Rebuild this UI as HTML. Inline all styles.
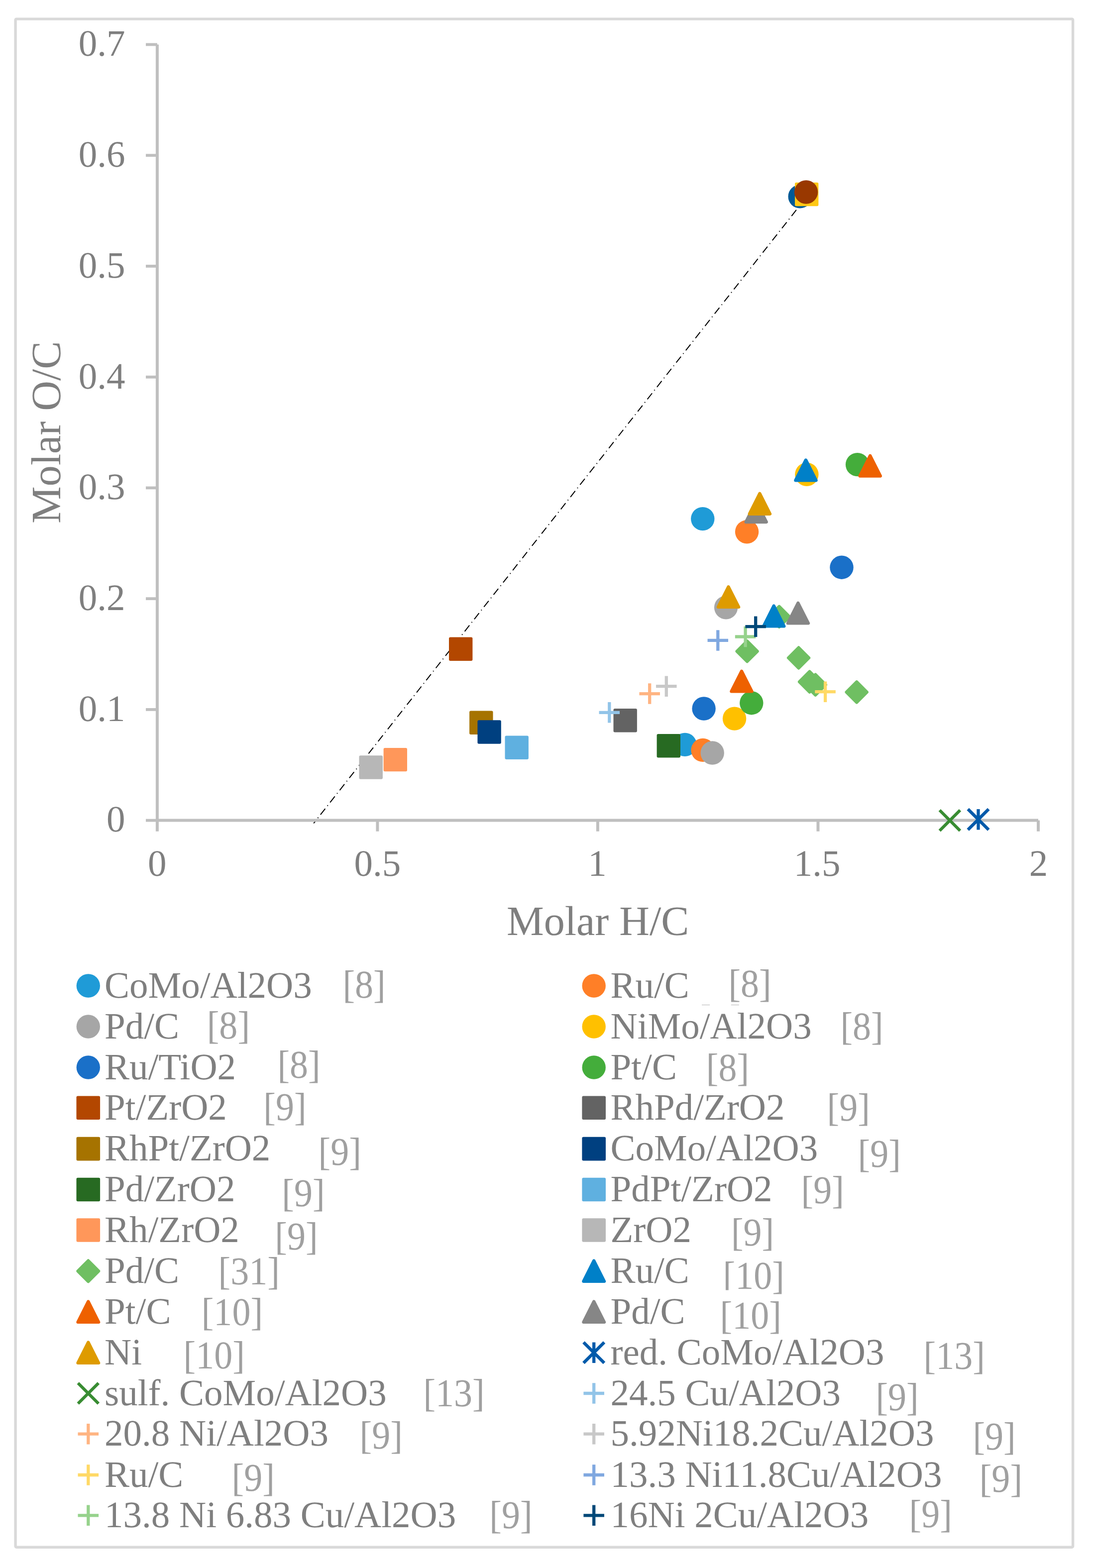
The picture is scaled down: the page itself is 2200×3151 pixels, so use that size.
<!DOCTYPE html>
<html><head><meta charset="utf-8"><title>Molar O/C vs H/C</title>
<style>html,body{margin:0;padding:0;background:#fff;}svg{display:block;}text{font-family:"Liberation Serif","Times New Roman",serif;text-rendering:geometricPrecision;}</style>
</head><body>
<svg width="2200" height="3151" viewBox="0 0 2200 3151">
<rect width="2200" height="3151" fill="#fff"/>
<rect x="31.1" y="38.1" width="2124.5" height="3071.1" rx="2" fill="none" stroke="#d9d9d9" stroke-width="5.4"/>
<line x1="630.2" y1="1654.5" x2="1620.7" y2="395.5" stroke="#000" stroke-width="2.0" stroke-dasharray="15.4 7.0 1.7 7.14" stroke-dashoffset="9.14"/>
<line x1="315.9" y1="89.5" x2="315.9" y2="1648.6" stroke="#bfbfbf" stroke-width="6"/>
<line x1="315.9" y1="1648.6" x2="2086" y2="1648.6" stroke="#bfbfbf" stroke-width="6"/>
<line x1="293" y1="1648.6" x2="315.9" y2="1648.6" stroke="#bfbfbf" stroke-width="5.8"/>
<line x1="293" y1="1425.9" x2="315.9" y2="1425.9" stroke="#bfbfbf" stroke-width="5.8"/>
<line x1="293" y1="1203.1" x2="315.9" y2="1203.1" stroke="#bfbfbf" stroke-width="5.8"/>
<line x1="293" y1="980.4" x2="315.9" y2="980.4" stroke="#bfbfbf" stroke-width="5.8"/>
<line x1="293" y1="757.7" x2="315.9" y2="757.7" stroke="#bfbfbf" stroke-width="5.8"/>
<line x1="293" y1="534.9" x2="315.9" y2="534.9" stroke="#bfbfbf" stroke-width="5.8"/>
<line x1="293" y1="312.2" x2="315.9" y2="312.2" stroke="#bfbfbf" stroke-width="5.8"/>
<line x1="293" y1="89.5" x2="315.9" y2="89.5" stroke="#bfbfbf" stroke-width="5.8"/>
<line x1="315.9" y1="1648.6" x2="315.9" y2="1670.7" stroke="#bfbfbf" stroke-width="6"/>
<line x1="758.4" y1="1648.6" x2="758.4" y2="1670.7" stroke="#bfbfbf" stroke-width="6"/>
<line x1="1200.9" y1="1648.6" x2="1200.9" y2="1670.7" stroke="#bfbfbf" stroke-width="6"/>
<line x1="1643.5" y1="1648.6" x2="1643.5" y2="1670.7" stroke="#bfbfbf" stroke-width="6"/>
<line x1="2086.0" y1="1648.6" x2="2086.0" y2="1670.7" stroke="#bfbfbf" stroke-width="6"/>
<circle cx="1607.2" cy="394.9" r="23.70" fill="#005a96"/>
<rect x="1599.75" y="369.55" width="41.90" height="41.90" fill="#ffc814" stroke="#ffc814" stroke-width="5.5" stroke-linejoin="round"/>
<circle cx="1619.6" cy="386.0" r="23.70" fill="#993800"/>
<circle cx="1411.8" cy="1042.6" r="23.70" fill="#1f9bd7"/>
<circle cx="1376.1" cy="1496.4" r="23.70" fill="#1f9bd7"/>
<circle cx="1500.6" cy="1068.8" r="23.70" fill="#ff7f27"/>
<circle cx="1412.1" cy="1507.4" r="23.70" fill="#ff7f27"/>
<circle cx="1458.6" cy="1220.8" r="23.70" fill="#a6a6a6"/>
<circle cx="1431.2" cy="1513.0" r="23.70" fill="#a6a6a6"/>
<circle cx="1620.9" cy="953.3" r="23.70" fill="#ffc000"/>
<circle cx="1475.6" cy="1444.1" r="23.70" fill="#ffc000"/>
<circle cx="1691.0" cy="1140.2" r="23.70" fill="#1a70c8"/>
<circle cx="1414.1" cy="1424.0" r="23.70" fill="#1a70c8"/>
<circle cx="1722.6" cy="933.6" r="23.70" fill="#44ad3b"/>
<circle cx="1509.8" cy="1412.7" r="23.70" fill="#44ad3b"/>
<rect x="904.75" y="1283.25" width="41.90" height="41.90" fill="#b34700" stroke="#b34700" stroke-width="5.5" stroke-linejoin="round"/>
<rect x="1235.25" y="1426.75" width="41.90" height="41.90" fill="#636363" stroke="#636363" stroke-width="5.5" stroke-linejoin="round"/>
<rect x="945.85" y="1431.25" width="41.90" height="41.90" fill="#a67300" stroke="#a67300" stroke-width="5.5" stroke-linejoin="round"/>
<rect x="962.15" y="1450.05" width="41.90" height="41.90" fill="#004080" stroke="#004080" stroke-width="5.5" stroke-linejoin="round"/>
<rect x="1322.35" y="1477.75" width="41.90" height="41.90" fill="#276a22" stroke="#276a22" stroke-width="5.5" stroke-linejoin="round"/>
<rect x="1017.25" y="1481.25" width="41.90" height="41.90" fill="#5fb0e0" stroke="#5fb0e0" stroke-width="5.5" stroke-linejoin="round"/>
<rect x="773.35" y="1505.65" width="41.90" height="41.90" fill="#ff975a" stroke="#ff975a" stroke-width="5.5" stroke-linejoin="round"/>
<rect x="724.25" y="1521.05" width="41.90" height="41.90" fill="#b7b7b7" stroke="#b7b7b7" stroke-width="5.5" stroke-linejoin="round"/>
<polygon points="1501.1,1288.10 1521.80,1308.8 1501.1,1329.50 1480.40,1308.8" fill="#6fbf62" stroke="#6fbf62" stroke-width="6.0" stroke-linejoin="round"/>
<polygon points="1604.6,1301.30 1625.30,1322.0 1604.6,1342.70 1583.90,1322.0" fill="#6fbf62" stroke="#6fbf62" stroke-width="6.0" stroke-linejoin="round"/>
<polygon points="1626.6,1349.40 1647.30,1370.1 1626.6,1390.80 1605.90,1370.1" fill="#6fbf62" stroke="#6fbf62" stroke-width="6.0" stroke-linejoin="round"/>
<polygon points="1638.3,1355.40 1659.00,1376.1 1638.3,1396.80 1617.60,1376.1" fill="#6fbf62" stroke="#6fbf62" stroke-width="6.0" stroke-linejoin="round"/>
<polygon points="1721.2,1370.20 1741.90,1390.9 1721.2,1411.60 1700.50,1390.9" fill="#6fbf62" stroke="#6fbf62" stroke-width="6.0" stroke-linejoin="round"/>
<polygon points="1565.5,1218.60 1586.20,1239.3 1565.5,1260.00 1544.80,1239.3" fill="#6fbf62" stroke="#6fbf62" stroke-width="6.0" stroke-linejoin="round"/>
<polygon points="1554.7,1217.65 1575.20,1258.35 1534.20,1258.35" fill="#0080c8" stroke="#0080c8" stroke-width="6.5" stroke-linejoin="round"/>
<polygon points="1619.0,924.55 1639.50,965.25 1598.50,965.25" fill="#0080c8" stroke="#0080c8" stroke-width="6.5" stroke-linejoin="round"/>
<polygon points="1490.0,1348.95 1510.50,1389.35 1469.50,1389.35" fill="#ee6100" stroke="#ee6100" stroke-width="6.5" stroke-linejoin="round"/>
<polygon points="1748.2,915.85 1768.70,956.55 1727.70,956.55" fill="#ee6100" stroke="#ee6100" stroke-width="6.5" stroke-linejoin="round"/>
<polygon points="1603.4,1211.95 1623.90,1252.35 1582.90,1252.35" fill="#868686" stroke="#868686" stroke-width="6.5" stroke-linejoin="round"/>
<polygon points="1519.2,1008.45 1539.70,1048.95 1498.70,1048.95" fill="#868686" stroke="#868686" stroke-width="6.5" stroke-linejoin="round"/>
<polygon points="1526.4,991.95 1546.90,1032.65 1505.90,1032.65" fill="#de9b00" stroke="#de9b00" stroke-width="6.5" stroke-linejoin="round"/>
<polygon points="1463.5,1179.45 1484.00,1219.85 1443.00,1219.85" fill="#de9b00" stroke="#de9b00" stroke-width="6.5" stroke-linejoin="round"/>
<path d="M1944.70 1626.00L1986.30 1667.60M1944.70 1667.60L1986.30 1626.00M1965.5 1626.00V1667.60" stroke="#005aaa" stroke-width="6.3" fill="none"/>
<path d="M1887.80 1628.10L1929.00 1669.30M1887.80 1669.30L1929.00 1628.10" stroke="#388c32" stroke-width="6.1" fill="none"/>
<path d="M1203.55 1431.8H1245.05M1224.3 1411.05V1452.55" stroke="#92c4e8" stroke-width="6.3" fill="none"/>
<path d="M1284.45 1394.1H1325.95M1305.2 1373.35V1414.85" stroke="#ffb482" stroke-width="6.3" fill="none"/>
<path d="M1318.05 1379.2H1359.55M1338.8 1358.45V1399.95" stroke="#c8c8c8" stroke-width="6.3" fill="none"/>
<path d="M1637.35 1390.2H1678.85M1658.1 1369.45V1410.95" stroke="#ffd966" stroke-width="6.3" fill="none"/>
<path d="M1421.55 1286.9H1463.05M1442.3 1266.15V1307.65" stroke="#80a8e0" stroke-width="6.3" fill="none"/>
<path d="M1476.85 1279.5H1518.35M1497.6 1258.75V1300.25" stroke="#96d28c" stroke-width="6.3" fill="none"/>
<path d="M1497.45 1259.2H1538.95M1518.2 1238.45V1279.95" stroke="#004878" stroke-width="6.3" fill="none"/>
<circle cx="177.3" cy="1981.0" r="23.70" fill="#1f9bd7"/>
<circle cx="177.3" cy="2063.0" r="23.70" fill="#a6a6a6"/>
<circle cx="177.3" cy="2145.0" r="23.70" fill="#1a70c8"/>
<rect x="156.25" y="2205.15" width="42.10" height="42.10" fill="#b34700" stroke="#b34700" stroke-width="5.5" stroke-linejoin="round"/>
<rect x="156.25" y="2287.55" width="42.10" height="42.10" fill="#a67300" stroke="#a67300" stroke-width="5.5" stroke-linejoin="round"/>
<rect x="156.25" y="2369.45" width="42.10" height="42.10" fill="#276a22" stroke="#276a22" stroke-width="5.5" stroke-linejoin="round"/>
<rect x="156.25" y="2450.95" width="42.10" height="42.10" fill="#ff975a" stroke="#ff975a" stroke-width="5.5" stroke-linejoin="round"/>
<polygon points="177.3,2533.30 198.30,2554.3 177.3,2575.30 156.30,2554.3" fill="#6fbf62" stroke="#6fbf62" stroke-width="6.0" stroke-linejoin="round"/>
<polygon points="177.3,2615.75 198.05,2656.85 156.55,2656.85" fill="#ee6100" stroke="#ee6100" stroke-width="6.5" stroke-linejoin="round"/>
<polygon points="177.3,2697.75 198.05,2738.85 156.55,2738.85" fill="#de9b00" stroke="#de9b00" stroke-width="6.5" stroke-linejoin="round"/>
<path d="M156.70 2779.40L197.90 2820.60M156.70 2820.60L197.90 2779.40" stroke="#388c32" stroke-width="6.1" fill="none"/>
<path d="M156.50 2881.7H198.10M177.3 2860.90V2902.50" stroke="#ffb482" stroke-width="6.3" fill="none"/>
<path d="M156.50 2964.0H198.10M177.3 2943.20V2984.80" stroke="#ffd966" stroke-width="6.3" fill="none"/>
<path d="M156.50 3045.3H198.10M177.3 3024.50V3066.10" stroke="#96d28c" stroke-width="6.3" fill="none"/>
<circle cx="1193.2" cy="1981.0" r="23.70" fill="#ff7f27"/>
<circle cx="1193.2" cy="2063.0" r="23.70" fill="#ffc000"/>
<circle cx="1193.2" cy="2145.0" r="23.70" fill="#44ad3b"/>
<rect x="1172.15" y="2205.15" width="42.10" height="42.10" fill="#636363" stroke="#636363" stroke-width="5.5" stroke-linejoin="round"/>
<rect x="1172.15" y="2287.55" width="42.10" height="42.10" fill="#004080" stroke="#004080" stroke-width="5.5" stroke-linejoin="round"/>
<rect x="1172.15" y="2369.45" width="42.10" height="42.10" fill="#5fb0e0" stroke="#5fb0e0" stroke-width="5.5" stroke-linejoin="round"/>
<rect x="1172.15" y="2450.95" width="42.10" height="42.10" fill="#b7b7b7" stroke="#b7b7b7" stroke-width="5.5" stroke-linejoin="round"/>
<polygon points="1193.2,2533.75 1213.95,2574.85 1172.45,2574.85" fill="#0080c8" stroke="#0080c8" stroke-width="6.5" stroke-linejoin="round"/>
<polygon points="1193.2,2615.75 1213.95,2656.85 1172.45,2656.85" fill="#868686" stroke="#868686" stroke-width="6.5" stroke-linejoin="round"/>
<path d="M1172.40 2697.50L1214.00 2739.10M1172.40 2739.10L1214.00 2697.50M1193.2 2697.50V2739.10" stroke="#005aaa" stroke-width="6.3" fill="none"/>
<path d="M1172.40 2800.0H1214.00M1193.2 2779.20V2820.80" stroke="#92c4e8" stroke-width="6.3" fill="none"/>
<path d="M1172.40 2881.7H1214.00M1193.2 2860.90V2902.50" stroke="#c8c8c8" stroke-width="6.3" fill="none"/>
<path d="M1172.40 2964.0H1214.00M1193.2 2943.20V2984.80" stroke="#80a8e0" stroke-width="6.3" fill="none"/>
<path d="M1172.40 3045.3H1214.00M1193.2 3024.50V3066.10" stroke="#004878" stroke-width="6.3" fill="none"/>
<path d="M1410 2019.5H1426.2M1468.8 2019.5H1484.8" stroke="#b4b4b4" stroke-width="1.2"/>
<text x="251.5" y="1671.4" font-size="75.0" fill="#7f7f7f" text-anchor="end">0</text>
<text x="251.5" y="1448.7" font-size="75.0" fill="#7f7f7f" text-anchor="end">0.1</text>
<text x="251.5" y="1225.9" font-size="75.0" fill="#7f7f7f" text-anchor="end">0.2</text>
<text x="251.5" y="1003.2" font-size="75.0" fill="#7f7f7f" text-anchor="end">0.3</text>
<text x="251.5" y="780.5" font-size="75.0" fill="#7f7f7f" text-anchor="end">0.4</text>
<text x="251.5" y="557.7" font-size="75.0" fill="#7f7f7f" text-anchor="end">0.5</text>
<text x="251.5" y="335.0" font-size="75.0" fill="#7f7f7f" text-anchor="end">0.6</text>
<text x="251.5" y="112.3" font-size="75.0" fill="#7f7f7f" text-anchor="end">0.7</text>
<text x="297.1" y="1759.6" font-size="75.0" fill="#7f7f7f">0</text>
<text x="711.6" y="1759.6" font-size="75.0" fill="#7f7f7f">0.5</text>
<text x="1181.2" y="1759.6" font-size="75.0" fill="#7f7f7f">1</text>
<text x="1594.8" y="1759.6" font-size="75.0" fill="#7f7f7f">1.5</text>
<text x="2067.7" y="1759.6" font-size="75.0" fill="#7f7f7f">2</text>
<text x="1018.0" y="1879.0" font-size="84.0" fill="#7f7f7f">Molar H/C</text>
<text transform="translate(120.5,1052.0) rotate(-90)" x="0" y="0" font-size="84.0" fill="#7f7f7f">Molar O/C</text>
<text x="210.0" y="2004.5" font-size="75.0" fill="#7f7f7f">CoMo/Al2O3</text>
<text transform="translate(688.4,2004.9) scale(0.935,1)" font-size="79.2" fill="#a0a0a0">[8]</text>
<text x="210.0" y="2086.5" font-size="75.0" fill="#7f7f7f">Pd/C</text>
<text transform="translate(415.7,2087.2) scale(0.935,1)" font-size="79.2" fill="#a0a0a0">[8]</text>
<text x="210.0" y="2168.5" font-size="75.0" fill="#7f7f7f">Ru/TiO2</text>
<text transform="translate(557.4,2165.8) scale(0.935,1)" font-size="79.2" fill="#a0a0a0">[8]</text>
<text x="210.0" y="2249.7" font-size="75.0" fill="#7f7f7f">Pt/ZrO2</text>
<text transform="translate(529.3,2251.1) scale(0.935,1)" font-size="79.2" fill="#a0a0a0">[9]</text>
<text x="210.0" y="2332.1" font-size="75.0" fill="#7f7f7f">RhPt/ZrO2</text>
<text transform="translate(639.5,2341.1) scale(0.935,1)" font-size="79.2" fill="#a0a0a0">[9]</text>
<text x="210.0" y="2414.0" font-size="75.0" fill="#7f7f7f">Pd/ZrO2</text>
<text transform="translate(566.3,2424.0) scale(0.935,1)" font-size="79.2" fill="#a0a0a0">[9]</text>
<text x="210.0" y="2495.5" font-size="75.0" fill="#7f7f7f">Rh/ZrO2</text>
<text transform="translate(552.3,2511.1) scale(0.935,1)" font-size="79.2" fill="#a0a0a0">[9]</text>
<text x="210.0" y="2577.8" font-size="75.0" fill="#7f7f7f">Pd/C</text>
<text transform="translate(438.6,2581.0) scale(0.935,1)" font-size="79.2" fill="#a0a0a0">[31]</text>
<text x="210.0" y="2659.8" font-size="75.0" fill="#7f7f7f">Pt/C</text>
<text transform="translate(404.7,2662.9) scale(0.935,1)" font-size="79.2" fill="#a0a0a0">[10]</text>
<text x="210.0" y="2741.8" font-size="75.0" fill="#7f7f7f">Ni</text>
<text transform="translate(368.6,2750.0) scale(0.935,1)" font-size="79.2" fill="#a0a0a0">[10]</text>
<text x="210.0" y="2823.5" font-size="75.0" fill="#7f7f7f">sulf. CoMo/Al2O3</text>
<text transform="translate(850.4,2826.0) scale(0.935,1)" font-size="79.2" fill="#a0a0a0">[13]</text>
<text x="210.0" y="2905.2" font-size="75.0" fill="#7f7f7f">20.8 Ni/Al2O3</text>
<text transform="translate(722.5,2911.2) scale(0.935,1)" font-size="79.2" fill="#a0a0a0">[9]</text>
<text x="210.0" y="2987.5" font-size="75.0" fill="#7f7f7f">Ru/C</text>
<text transform="translate(465.6,2996.0) scale(0.935,1)" font-size="79.2" fill="#a0a0a0">[9]</text>
<text x="210.0" y="3068.8" font-size="75.0" fill="#7f7f7f">13.8 Ni 6.83 Cu/Al2O3</text>
<text transform="translate(983.3,3071.0) scale(0.935,1)" font-size="79.2" fill="#a0a0a0">[9]</text>
<text x="1226.5" y="2004.5" font-size="75.0" fill="#7f7f7f">Ru/C</text>
<text transform="translate(1463.4,2003.2) scale(0.935,1)" font-size="79.2" fill="#a0a0a0">[8]</text>
<text x="1226.5" y="2086.5" font-size="75.0" fill="#7f7f7f">NiMo/Al2O3</text>
<text transform="translate(1688.4,2088.9) scale(0.935,1)" font-size="79.2" fill="#a0a0a0">[8]</text>
<text x="1226.5" y="2168.5" font-size="75.0" fill="#7f7f7f">Pt/C</text>
<text transform="translate(1418.8,2172.0) scale(0.935,1)" font-size="79.2" fill="#a0a0a0">[8]</text>
<text x="1226.5" y="2249.7" font-size="75.0" fill="#7f7f7f">RhPd/ZrO2</text>
<text transform="translate(1661.6,2252.0) scale(0.935,1)" font-size="79.2" fill="#a0a0a0">[9]</text>
<text x="1226.5" y="2332.1" font-size="75.0" fill="#7f7f7f">CoMo/Al2O3</text>
<text transform="translate(1723.6,2345.0) scale(0.935,1)" font-size="79.2" fill="#a0a0a0">[9]</text>
<text x="1226.5" y="2414.0" font-size="75.0" fill="#7f7f7f">PdPt/ZrO2</text>
<text transform="translate(1609.5,2418.1) scale(0.935,1)" font-size="79.2" fill="#a0a0a0">[9]</text>
<text x="1226.5" y="2495.5" font-size="75.0" fill="#7f7f7f">ZrO2</text>
<text transform="translate(1468.9,2503.1) scale(0.935,1)" font-size="79.2" fill="#a0a0a0">[9]</text>
<text x="1226.5" y="2577.8" font-size="75.0" fill="#7f7f7f">Ru/C</text>
<text transform="translate(1452.6,2589.9) scale(0.935,1)" font-size="79.2" fill="#a0a0a0">[10]</text>
<text x="1226.5" y="2659.8" font-size="75.0" fill="#7f7f7f">Pd/C</text>
<text transform="translate(1446.5,2670.1) scale(0.935,1)" font-size="79.2" fill="#a0a0a0">[10]</text>
<text x="1226.5" y="2741.8" font-size="75.0" fill="#7f7f7f">red. CoMo/Al2O3</text>
<text transform="translate(1855.5,2751.1) scale(0.935,1)" font-size="79.2" fill="#a0a0a0">[13]</text>
<text x="1226.5" y="2823.5" font-size="75.0" fill="#7f7f7f">24.5 Cu/Al2O3</text>
<text transform="translate(1759.4,2833.9) scale(0.935,1)" font-size="79.2" fill="#a0a0a0">[9]</text>
<text x="1226.5" y="2905.2" font-size="75.0" fill="#7f7f7f">5.92Ni18.2Cu/Al2O3</text>
<text transform="translate(1954.4,2913.0) scale(0.935,1)" font-size="79.2" fill="#a0a0a0">[9]</text>
<text x="1226.5" y="2987.5" font-size="75.0" fill="#7f7f7f">13.3 Ni11.8Cu/Al2O3</text>
<text transform="translate(1967.7,2998.1) scale(0.935,1)" font-size="79.2" fill="#a0a0a0">[9]</text>
<text x="1226.5" y="3068.8" font-size="75.0" fill="#7f7f7f">16Ni 2Cu/Al2O3</text>
<text transform="translate(1826.6,3069.1) scale(0.935,1)" font-size="79.2" fill="#a0a0a0">[9]</text>
<rect x="1455" y="2592.6" width="21" height="10" fill="#fff"/>
</svg>
</body></html>
